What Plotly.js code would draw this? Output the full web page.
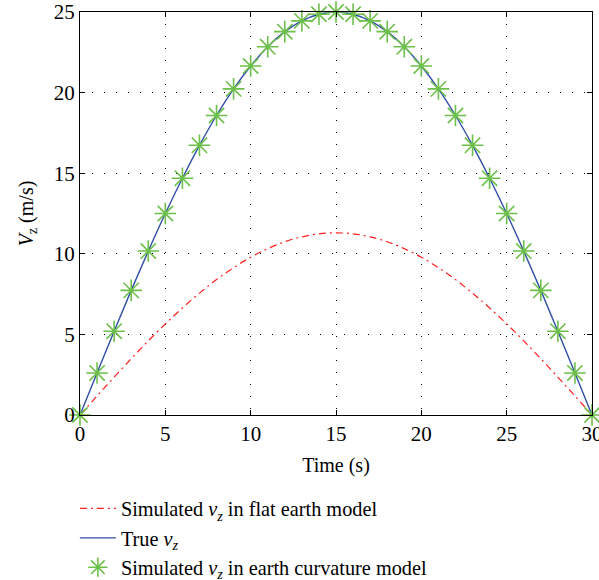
<!DOCTYPE html>
<html>
<head>
<meta charset="utf-8">
<script src="https://cdn.plot.ly/plotly-3.0.1.min.js"></script>
<style>html,body{margin:0;padding:0;background:#fff;}#chart{width:599px;height:580px;}</style>
</head>
<body>
<div id="chart"></div>
<script>
const time = [0,1,2,3,4,5,6,7,8,9,10,11,12,13,14,15,16,17,18,19,20,21,22,23,24,25,26,27,28,29,30];
const trueVz = [0,2.61,5.20,7.73,10.17,12.50,14.69,16.73,18.58,20.23,21.65,22.84,23.78,24.45,24.86,25.00,24.86,24.45,23.78,22.84,21.65,20.23,18.58,16.73,14.69,12.50,10.17,7.73,5.20,2.61,0];
const curvatureVz = [0,2.61,5.20,7.73,10.17,12.50,14.69,16.73,18.58,20.23,21.65,22.84,23.78,24.45,24.86,25.00,24.86,24.45,23.78,22.84,21.65,20.23,18.58,16.73,14.69,12.50,10.17,7.73,5.20,2.61,0];
const flatVz = [0,1.18,2.35,3.49,4.60,5.65,6.64,7.56,8.40,9.14,9.79,10.32,10.75,11.05,11.24,11.30,11.24,11.05,10.75,10.32,9.79,9.14,8.40,7.56,6.64,5.65,4.60,3.49,2.35,1.18,0];
const xTicks = [0,5,10,15,20,25,30];
const yTicks = [0,5,10,15,20,25];

const FONT = 'Liberation Serif, Times New Roman, serif';

const traces = [
  {x: time, y: flatVz, mode: 'lines', name: 'Simulated <i>v<sub>z</sub></i> in flat earth model',
   line: {color: '#ff2020', width: 1.2, dash: '7px,4px,2px,4px', shape: 'spline'}},
  {x: time, y: trueVz, mode: 'lines', name: 'True <i>v<sub>z</sub></i>',
   line: {color: '#2f4fa6', width: 1.4, shape: 'spline'}},
  {x: time, y: curvatureVz, mode: 'markers', name: 'Simulated <i>v<sub>z</sub></i> in earth curvature model',
   marker: {symbol: 'asterisk-open', size: 18, color: '#6cc04a', line: {color: '#6cc04a', width: 1.6}},
   cliponaxis: false}
];

const axisCommon = {
  showline: true, linecolor: '#000', linewidth: 1, mirror: 'ticks',
  ticks: 'inside', ticklen: 5, tickcolor: '#000',
  showgrid: true, gridcolor: '#000', gridwidth: 1, griddash: '1px,11px',
  zeroline: false, tickfont: {family: FONT, size: 21, color: '#000'},
  ticklabeloverflow: 'allow', automargin: false
};

const layout = {
  width: 599, height: 580,
  paper_bgcolor: '#fff', plot_bgcolor: '#fff',
  margin: {l: 80, r: 7, t: 12, b: 165, autoexpand: false},
  font: {family: FONT, size: 20, color: '#000'},
  showlegend: true,
  xaxis: Object.assign({}, axisCommon, {range: [0, 30], tickvals: xTicks, ticktext: xTicks.map(String),
    title: {text: 'Time (s)', font: {family: FONT, size: 20, color: '#000'}, standoff: 12}}),
  yaxis: Object.assign({}, axisCommon, {range: [0, 25], tickvals: yTicks, ticktext: yTicks.map(String),
    title: {text: '<i>V</i><sub>z</sub> (m/s)', font: {family: FONT, size: 20, color: '#000'}, standoff: 14}}),
  legend: {x: -0.01, y: -0.183, xanchor: 'left', yanchor: 'top', bgcolor: 'rgba(0,0,0,0)',
    font: {family: FONT, size: 20.3, color: '#000'}, tracegroupgap: 0, itemwidth: 36}
};

Plotly.newPlot('chart', traces, layout, {displayModeBar: false, staticPlot: true});
</script>
</body>
</html>
